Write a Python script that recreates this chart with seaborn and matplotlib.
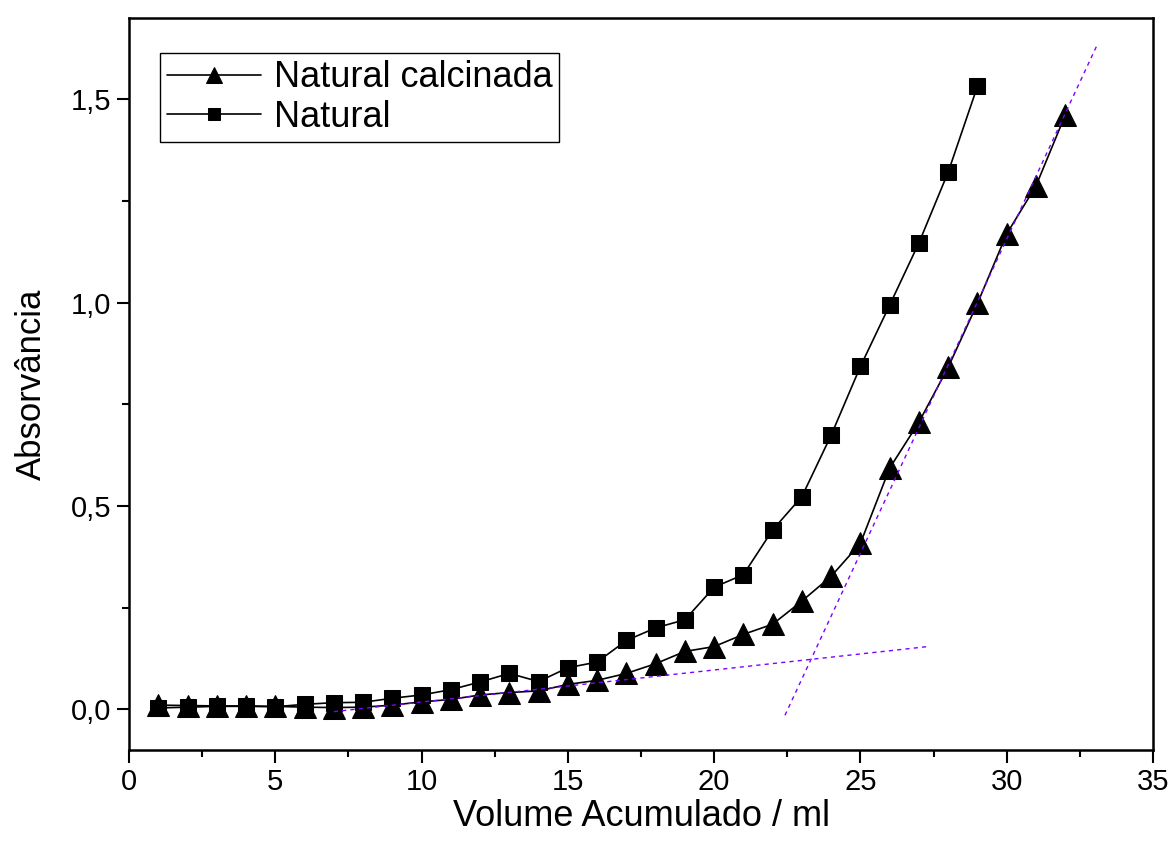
import numpy as np
import pandas as pd
import matplotlib
matplotlib.use("Agg")
import matplotlib.pyplot as plt
from matplotlib.ticker import MultipleLocator, FuncFormatter
import seaborn as sns

# ---- data ----
volume = list(range(1, 33))
calcinada = [0.010, 0.009, 0.008, 0.008, 0.007, 0.005, 0.004, 0.005, 0.010, 0.018,
             0.024, 0.035, 0.041, 0.045, 0.061, 0.071, 0.088, 0.112, 0.142, 0.154,
             0.184, 0.209, 0.266, 0.327, 0.408, 0.593, 0.706, 0.841, 0.998, 1.169,
             1.287, 1.461]
volume_nat = list(range(1, 30))
natural = [0.003, 0.005, 0.007, 0.007, 0.006, 0.012, 0.016, 0.017, 0.027, 0.035,
           0.048, 0.067, 0.088, 0.068, 0.102, 0.116, 0.169, 0.200, 0.220, 0.300,
           0.331, 0.441, 0.523, 0.674, 0.843, 0.994, 1.147, 1.321, 1.532]
tangent1_x = [7.0, 27.3]
tangent1_y = [-0.006, 0.154]
tangent2_x = [22.42, 33.08]
tangent2_y = [-0.015, 1.632]
series_labels = ["Natural calcinada", "Natural"]

df_c = pd.DataFrame({"x": volume, "y": calcinada})
df_n = pd.DataFrame({"x": volume_nat, "y": natural})

sns.set_style("ticks")
plt.rcParams["font.family"] = ["Liberation Sans", "DejaVu Sans"]
plt.rcParams["text.color"] = "black"
plt.rcParams["axes.labelcolor"] = "black"
plt.rcParams["xtick.color"] = "black"
plt.rcParams["ytick.color"] = "black"

fig = plt.figure(figsize=(11.69, 8.56), dpi=100)
ax = fig.add_axes([0.1104, 0.124, 0.8759, 0.855])

sns.lineplot(data=df_c, x="x", y="y", ax=ax, color="black", lw=1.2,
             marker="^", markersize=15.5, markeredgecolor="black",
             markerfacecolor="black", label=series_labels[0], zorder=3)
sns.lineplot(data=df_n, x="x", y="y", ax=ax, color="black", lw=1.2,
             marker="s", markersize=11.5, markeredgecolor="black",
             markerfacecolor="black", label=series_labels[1], zorder=3)

ax.plot(tangent1_x, tangent1_y, ls=(0, (3, 3)), color="#8000ff", lw=1.0, zorder=4)
ax.plot(tangent2_x, tangent2_y, ls=(0, (3, 3)), color="#8000ff", lw=1.0, zorder=4)

ax.set_xlim(0, 35)
ax.set_ylim(-0.1, 1.7)
ax.xaxis.set_major_locator(MultipleLocator(5))
ax.xaxis.set_minor_locator(MultipleLocator(2.5))
ax.yaxis.set_major_locator(MultipleLocator(0.5))
ax.yaxis.set_minor_locator(MultipleLocator(0.25))
ax.yaxis.set_major_formatter(FuncFormatter(lambda v, p: f"{v:.1f}".replace(".", ",")))

for s in ax.spines.values():
    s.set_linewidth(1.8)
    s.set_color("black")
    s.set_visible(True)

ax.tick_params(axis="both", which="major", direction="out", length=9, width=1.5,
               labelsize=21, pad=4, top=False, right=False, colors="black")
ax.tick_params(axis="both", which="minor", direction="out", length=5, width=1.5,
               top=False, right=False, colors="black")

ax.set_xlabel("Volume Acumulado / ml", fontsize=26, labelpad=2, color="black")
ax.set_ylabel("Absorvância", fontsize=25, labelpad=16, color="black")

leg = ax.legend(loc="upper left", bbox_to_anchor=(0.030, 0.952), borderaxespad=0,
                fontsize=26, frameon=True, fancybox=False, edgecolor="black",
                framealpha=1, handlelength=2.6, handletextpad=0.35, borderpad=0.2,
                labelspacing=0.12, markerscale=0.72)
leg.get_frame().set_linewidth(1.0)
for t in leg.get_texts():
    t.set_color("black")

fig.savefig("out.png", dpi=100)
